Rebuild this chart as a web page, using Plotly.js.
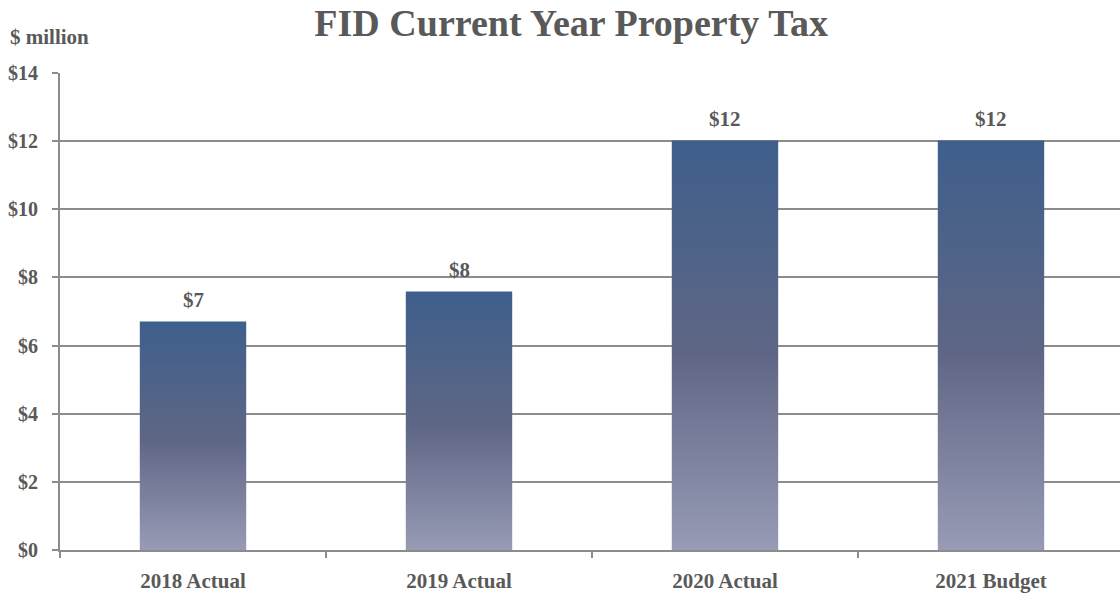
<!DOCTYPE html>
<html>
<head>
<meta charset="utf-8">
<script src="https://cdn.plot.ly/plotly-3.0.1.min.js"></script>
<style>
html,body{margin:0;padding:0;background:#fff;overflow:hidden;}
#chart{width:1120px;height:596px;}
</style>
</head>
<body>
<div id="chart"></div>
<script>
const categories = ["2018 Actual", "2019 Actual", "2020 Actual", "2021 Budget"];
const values = [6.71, 7.59, 12.02, 12.02];
const valueLabels = ["$7", "$8", "$12", "$12"];
const yTickVals = [0, 2, 4, 6, 8, 10, 12, 14];
const yTickText = ["$0", "$2", "$4", "$6", "$8", "$10", "$12", "$14"];

const FONT = "'Liberation Serif', 'DejaVu Serif', serif";
const GREY = "#595959";
const LINE = "#8c8c8c";

const trace = {
  type: "bar",
  x: categories,
  y: values,
  marker: {color: "#5F6685", line: {width: 0}},
  hoverinfo: "none"
};

const labelAnnotations = categories.map(function (c, i) {
  return {
    x: c, y: values[i], xref: "x", yref: "y",
    text: valueLabels[i],
    showarrow: false,
    xanchor: "center", yanchor: "bottom",
    yshift: 7,
    font: {family: FONT, size: 21, color: GREY, weight: "bold"}
  };
});

const layout = {
  width: 1120,
  height: 596,
  margin: {l: 60, r: 0, t: 73, b: 46},
  paper_bgcolor: "#ffffff",
  plot_bgcolor: "#ffffff",
  bargap: 0.6,
  showlegend: false,
  font: {family: FONT, color: GREY},
  title: {
    text: "FID Current Year Property Tax",
    font: {family: FONT, size: 38, color: GREY, weight: "bold"},
    x: 0.51, xanchor: "center",
    y: 0.962, yanchor: "middle"
  },
  xaxis: {
    type: "category",
    range: [-0.5, 3.485],
    showgrid: false,
    zeroline: false,
    showline: true,
    linecolor: LINE,
    linewidth: 2,
    tickson: "boundaries",
    ticks: "outside",
    ticklen: 6,
    tickwidth: 2,
    tickcolor: LINE,
    ticklabelstandoff: 11,
    tickfont: {family: FONT, size: 21, color: GREY, weight: "bold"},
    fixedrange: true
  },
  yaxis: {
    range: [0, 14],
    tickvals: yTickVals,
    ticktext: yTickText,
    showgrid: true,
    gridcolor: LINE,
    gridwidth: 2,
    zeroline: false,
    showline: true,
    linecolor: LINE,
    linewidth: 2,
    ticks: "outside",
    ticklen: 6,
    tickwidth: 2,
    tickcolor: LINE,
    ticklabelstandoff: 10,
    tickfont: {family: FONT, size: 20, color: GREY, weight: "bold"},
    fixedrange: true
  },
  annotations: labelAnnotations.concat([{
    text: "$ million",
    xref: "paper", yref: "paper",
    x: -0.049, y: 1.076,
    xanchor: "left", yanchor: "middle",
    showarrow: false,
    font: {family: FONT, size: 21, color: GREY, weight: "bold"}
  }])
};

function applyGradient(gd) {
  const svg = gd.querySelector(".main-svg");
  if (!svg) return;
  let defs = svg.querySelector("defs");
  if (!defs) {
    defs = document.createElementNS("http://www.w3.org/2000/svg", "defs");
    svg.insertBefore(defs, svg.firstChild);
  }
  if (!svg.querySelector("#barGrad")) {
    const ns = "http://www.w3.org/2000/svg";
    const g = document.createElementNS(ns, "linearGradient");
    g.setAttribute("id", "barGrad");
    g.setAttribute("x1", "0"); g.setAttribute("y1", "0");
    g.setAttribute("x2", "0"); g.setAttribute("y2", "1");
    [["0%", "#3E5F8C"], ["52%", "#5F6685"], ["100%", "#979BB5"]].forEach(function (s) {
      const st = document.createElementNS(ns, "stop");
      st.setAttribute("offset", s[0]);
      st.setAttribute("stop-color", s[1]);
      g.appendChild(st);
    });
    defs.appendChild(g);
  }
  gd.querySelectorAll(".bars .point path").forEach(function (p) {
    p.style.fill = "url(#barGrad)";
  });
}

const gd = document.getElementById("chart");
Plotly.newPlot(gd, [trace], layout, {displayModeBar: false, staticPlot: true}).then(function () {
  applyGradient(gd);
  gd.on("plotly_afterplot", function () { applyGradient(gd); });
});
</script>
</body>
</html>
